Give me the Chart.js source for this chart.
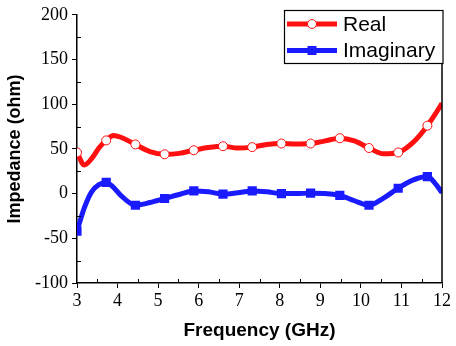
<!DOCTYPE html>
<html>
<head>
<meta charset="utf-8">
<script src="https://cdn.jsdelivr.net/npm/chart.js@4.4.1/dist/chart.umd.min.js"></script>
<style>
  html, body { margin: 0; padding: 0; background: #fff; }
  #wrap { width: 456px; height: 346px; }
</style>
</head>
<body>
<div id="wrap"><canvas id="myChart" width="456" height="346"></canvas></div>
<script>
// frequency (GHz) and impedance (ohm)
var freq = [3.00, 3.18, 3.36, 3.54, 3.72, 3.90, 4.08, 4.44, 4.80, 5.16, 5.52, 5.88, 6.24, 6.60, 6.96,
            7.32, 7.68, 8.04, 8.40, 8.76, 9.12, 9.48, 9.84, 10.20, 10.56, 10.92, 11.28, 11.64, 11.82, 12.00];
var realPart = [46, 32, 39, 51, 59.5, 65, 63, 55, 47, 44, 45, 48.5, 51.5, 53, 51,
                52, 55, 56, 55.5, 56, 59, 62, 59, 51, 44.5, 46, 57, 76, 88, 101];
var imagPart = [-42, -16, 2, 10, 12.5, 7, -2, -13, -10, -5.5, -1, 3, 2, -0.5, 1,
                3, 2, 0, 0, 0.5, 0, -2, -8, -13, -5, 6, 15, 19, 12, 1];
var xTicks = [3, 4, 5, 6, 7, 8, 9, 10, 11, 12];
var yTicks = [-100, -50, 0, 50, 100, 150, 200];
var seriesNames = ['Real', 'Imaginary'];

var red = '#ff1010';
var blue = '#1a1aff';
var serifFont = 'Liberation Serif';
var sansFont = 'Liberation Sans';

Chart.defaults.font.family = serifFont;
Chart.defaults.font.size = 18;
Chart.defaults.color = '#000';

function isMarker(f) {
  var k = (f - 3) / 0.72;
  return Math.abs(k - Math.round(k)) < 1e-6 && f < 12;
}

function toPoints(ys) {
  return freq.map(function (f, i) { return { x: f, y: ys[i] }; });
}

// minor ticks inward, right frame line, boxed legend
var frame = {
  id: 'frame',
  afterDatasetsDraw: function (chart) {
    var c = chart.ctx, a = chart.chartArea;
    var xs = chart.scales.x, ys = chart.scales.y;
    c.save();
    c.strokeStyle = '#000';
    c.lineWidth = 1;
    c.beginPath();
    for (var v = -75; v < 200; v += 50) {
      var py = Math.round(ys.getPixelForValue(v)) + 0.5;
      c.moveTo(a.left, py); c.lineTo(a.left + 4, py);
    }
    for (var f = 3.5; f < 12; f += 1) {
      var px = Math.round(xs.getPixelForValue(f)) + 0.5;
      c.moveTo(px, a.bottom); c.lineTo(px, a.bottom - 4);
    }
    c.stroke();
    c.lineWidth = 1.5;
    c.beginPath();
    c.moveTo(a.right, a.top); c.lineTo(a.right, a.bottom);
    c.stroke();

    // legend box
    var bx = 284.5, by = 10.5, bw = 158.5, bh = 53;
    c.fillStyle = '#fff';
    c.fillRect(bx, by, bw, bh);
    c.lineWidth = 1.2;
    c.strokeRect(bx, by, bw, bh);
    var rows = [24, 50.5];
    c.font = '21px "' + sansFont + '"';
    c.textBaseline = 'middle';
    chart.data.datasets.forEach(function (ds, i) {
      var y = rows[i];
      c.strokeStyle = ds.borderColor;
      c.lineWidth = 5;
      c.beginPath(); c.moveTo(287, y); c.lineTo(337, y); c.stroke();
      if (i === 0) {
        c.fillStyle = '#fff';
        c.strokeStyle = red;
        c.lineWidth = 1;
        c.beginPath(); c.arc(312, y, 4.5, 0, Math.PI * 2); c.fill(); c.stroke();
      } else {
        c.fillStyle = blue;
        c.fillRect(312 - 4.5, y - 4.5, 9, 9);
      }
      c.fillStyle = '#000';
      c.fillText(ds.label, 343, y + 1);
    });
    c.restore();
  }
};

new Chart(document.getElementById('myChart'), {
  type: 'line',
  data: {
    datasets: [{
      label: seriesNames[0],
      data: toPoints(realPart),
      borderColor: red,
      borderWidth: 5,
      cubicInterpolationMode: 'monotone',
      pointStyle: 'circle',
      pointRadius: function (ctx) { return isMarker(ctx.raw.x) ? 4.5 : 0; },
      pointBackgroundColor: '#fff',
      pointBorderColor: red,
      pointBorderWidth: 1
    }, {
      label: seriesNames[1],
      data: toPoints(imagPart),
      borderColor: blue,
      borderWidth: 5,
      cubicInterpolationMode: 'monotone',
      pointStyle: 'rect',
      pointRadius: function (ctx) { return isMarker(ctx.raw.x) ? 6.5 : 0; },
      pointBackgroundColor: blue,
      pointBorderColor: blue,
      pointBorderWidth: 0
    }]
  },
  options: {
    responsive: false,
    animation: false,
    layout: { padding: { top: 11, right: 14, left: 0, bottom: 0 } },
    plugins: {
      legend: { display: false },
      tooltip: { enabled: false }
    },
    scales: {
      x: {
        type: 'linear',
        min: 3,
        max: 12,
        afterFit: function (s) { s.height = 63; },
        afterBuildTicks: function (s) { s.ticks = xTicks.map(function (v) { return { value: v }; }); },
        border: { color: '#000', width: 1.5 },
        grid: { drawOnChartArea: false, color: '#000', tickLength: 5, tickWidth: 1 },
        ticks: {
          color: '#000',
          padding: 2,
          maxRotation: 0,
          font: { family: serifFont, size: 18 }
        },
        title: {
          display: true,
          text: 'Frequency (GHz)',
          color: '#000',
          font: { family: sansFont, size: 19, weight: 'bold' },
          padding: { top: 0, bottom: 4 }
        }
      },
      y: {
        min: -100,
        max: 200,
        afterFit: function (s) { s.width = 77; },
        afterBuildTicks: function (s) { s.ticks = yTicks.map(function (v) { return { value: v }; }); },
        border: { color: '#000', width: 1.5 },
        grid: { drawOnChartArea: false, color: '#000', tickLength: 5, tickWidth: 1 },
        ticks: {
          color: '#000',
          padding: 4,
          font: { family: serifFont, size: 18 }
        },
        title: {
          display: true,
          text: 'Impedance (ohm)',
          color: '#000',
          font: { family: sansFont, size: 18, weight: 'bold' },
          padding: { top: 4, bottom: 0 }
        }
      }
    }
  },
  plugins: [frame]
});
</script>
</body>
</html>
